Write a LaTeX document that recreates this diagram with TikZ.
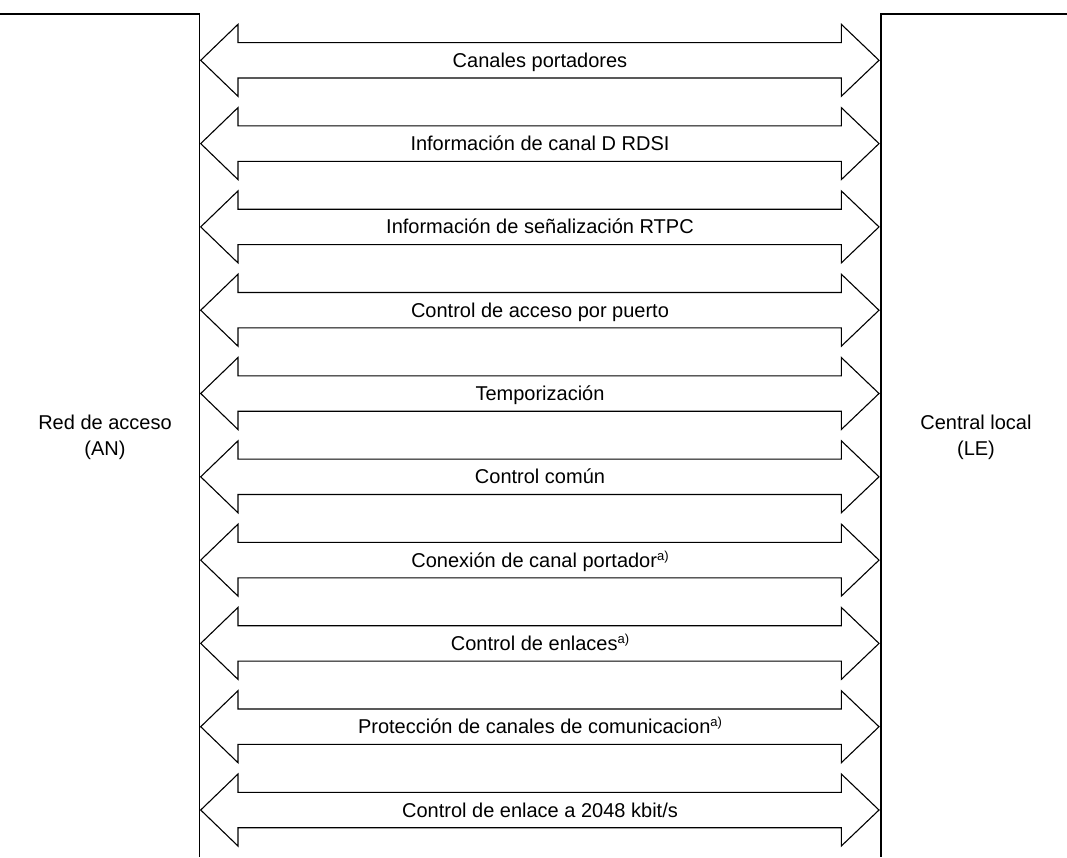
\documentclass[tikz,border=0pt]{standalone}
\usepackage{fontspec}
\setmainfont{Liberation Sans}
\newcommand{\supa}{\raisebox{7pt}{\fontsize{13}{13}\selectfont a)}}
\begin{document}
\begin{tikzpicture}[x=1pt,y=-1pt,line width=1.1pt,
  dblarrow/.style={draw=black,line join=miter},
  lbl/.style={font=\fontsize{20}{26}\selectfont,inner sep=0pt,align=center},
  wall/.style={draw=black}]
\useasboundingbox (0,0) rectangle (1067,857);
% walls
\coordinate (lt0) at (0,14);
\coordinate (lt1) at (199.5,14);
\coordinate (lb) at (199.5,857);
\coordinate (rt0) at (1067,14);
\coordinate (rt1) at (881,14);
\coordinate (rb) at (881,857);
\draw[wall] (lt0) -- (lt1) -- (lb);
\draw[wall] (rt0) -- (rt1) -- (rb);
% arrows
\foreach \t [count=\i from 0] in {
  {Canales portadores},
  {Información de canal D RDSI},
  {Información de señalización RTPC},
  {Control de acceso por puerto},
  {Temporización},
  {Control común},
  {Conexión de canal portador\supa},
  {Control de enlaces\supa},
  {Protección de canales de comunicacion\supa},
  {Control de enlace a 2048 kbit/s}}
{
  \pgfmathsetmacro\yc{60.3+83.3*\i}
  \draw[dblarrow] (200.7,\yc) -- (238,\yc-36) -- (238,\yc-17.7) -- (841.3,\yc-17.7)
    -- (841.3,\yc-36) -- (879,\yc) -- (841.3,\yc+36) -- (841.3,\yc+17.7)
    -- (238,\yc+17.7) -- (238,\yc+36) -- cycle;
  \node[lbl,anchor=base] (lab\i) at (540,\yc+7) {\t};
}
\node[lbl] (an) at (105,437) {Red de acceso\\(AN)};
\node[lbl] (le) at (976,437) {Central local\\(LE)};
\end{tikzpicture}
\end{document}
